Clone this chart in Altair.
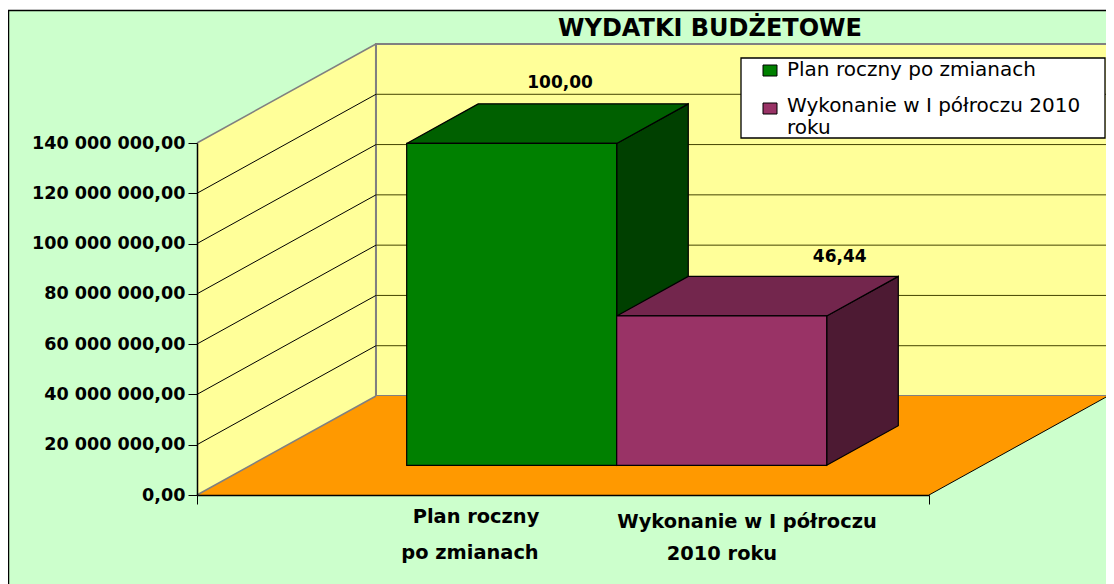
import altair as alt
import pandas as pd

# --- chart values -----------------------------------------------------------
title_text = "WYDATKI BUDŻETOWE"
series_names = ["Plan roczny po zmianach", "Wykonanie w I półroczu 2010 roku"]
series_values = [128000000, 59400000]
value_labels = ["100,00", "46,44"]
value_label_x = [0.496, 0.878]
value_label_y = [163900000, 94700000]
tick_values = [0, 20000000, 40000000, 60000000, 80000000, 100000000, 120000000, 140000000]
category_lines = [("Plan roczny", 476, 517), ("po zmianach", 470, 553),
                  ("Wykonanie w I półroczu", 747, 522), ("2010 roku", 722, 554)]
legend_lines = [("Plan roczny po zmianach", 70), ("Wykonanie w I półroczu 2010", 106), ("roku", 128)]
front_colors = ["#008000", "#993366"]
top_colors = ["#006000", "#73264D"]
side_colors = ["#004000", "#4D1A33"]

# --- oblique projection parameters (data units) -------------------------------
DX = 0.2445          # depth shift along the category axis
DV = 39375000        # depth shift along the value axis
BAR_W = 0.2869
D0, D1 = 0.3, 0.7    # depth span of the bars
Y_MAX = 140000000

xs = alt.Scale(domain=[0, 1], nice=False, zero=False)
ys = alt.Scale(domain=[0, Y_MAX], nice=False, zero=False)


def P(x, d, v):
    return x + d * DX, v + d * DV


def px(v):
    return v - 197


def py(v):
    return v - 143


def vpoly(x0, x1, low0, high0, low1, high1, color, stroke=None, sw=1.0):
    """Polygon with two vertical edges."""
    df = pd.DataFrame({"x": [x0, x1], "y": [low0, low1], "y2": [high0, high1]})
    kw = dict(color=color, opacity=1)
    if stroke:
        kw.update(stroke=stroke, strokeWidth=sw)
    return alt.Chart(df).mark_area(orient="vertical", **kw).encode(
        x=alt.X("x:Q", scale=xs, title=None),
        y=alt.Y("y:Q", scale=ys, title=None),
        y2="y2:Q",
    )


def hpoly(y0, y1, left0, right0, left1, right1, color, stroke=None, sw=1.0):
    """Polygon with two horizontal edges."""
    df = pd.DataFrame({"y": [y0, y1], "x": [left0, left1], "x2": [right0, right1]})
    kw = dict(color=color, opacity=1)
    if stroke:
        kw.update(stroke=stroke, strokeWidth=sw)
    return alt.Chart(df).mark_area(orient="horizontal", **kw).encode(
        y=alt.Y("y:Q", scale=ys, title=None),
        x=alt.X("x:Q", scale=xs, title=None),
        x2="x2:Q",
    )


def seg(points, color, sw=1.0):
    df = pd.DataFrame(points, columns=["x", "y"])
    df["o"] = range(len(df))
    return alt.Chart(df).mark_line(color=color, strokeWidth=sw).encode(
        x=alt.X("x:Q", scale=xs, title=None),
        y=alt.Y("y:Q", scale=ys, title=None),
        order="o:Q",
    )


one = pd.DataFrame({"a": [0]})


def box(x0, y0, x1, y1, fill, stroke, sw=1.0):
    return alt.Chart(one).mark_rect(fill=fill, stroke=stroke, strokeWidth=sw, opacity=1).encode(
        x=alt.value(px(x0)), x2=alt.value(px(x1)), y=alt.value(py(y0)), y2=alt.value(py(y1))
    )


def label(text, x, y, size, bold=True, align="center"):
    return alt.Chart(one).mark_text(
        text=text, font="DejaVu Sans", fontSize=size, fontWeight="bold" if bold else "normal",
        color="#000000", align=align, baseline="middle",
    ).encode(x=alt.value(px(x)), y=alt.value(py(y)))


# axes layer first: its explicit axis settings are shared by every layer
axis_df = pd.DataFrame({"x": [0, 1], "y": [0, 0]})
layers = [alt.Chart(axis_df).mark_line(opacity=0).encode(
    x=alt.X("x:Q", scale=xs, title=None, axis=alt.Axis(
        values=[0, 1], labels=False, grid=False, tickSize=9, tickColor="#000000",
        domainColor="#000000", domainWidth=1.5, zindex=1)),
    y=alt.Y("y:Q", scale=ys, title=None, axis=alt.Axis(
        values=tick_values, grid=False, tickSize=9, tickColor="#000000",
        domainColor="#000000", domainWidth=1.5, labelPadding=3, labelFont="DejaVu Sans",
        labelFontSize=17.6, labelFontWeight="bold", labelColor="#000000", zindex=1,
        labelExpr="replace(replace(format(datum.value, ',.2f'), /,/g, ' '), '.', ',')")),
)]

layers.append(box(8.5, 10.5, 1125, 600, "#CCFFCC", "#000000", 1.5))

# walls and floor
layers.append(vpoly(0, DX, 0, Y_MAX, DV, Y_MAX + DV, "#FFFF99"))
layers.append(vpoly(DX, 1 + DX, DV, Y_MAX + DV, DV, Y_MAX + DV, "#FFFF99", "#808080", 2))
layers.append(hpoly(0, DV, 0, 1, DX, 1 + DX, "#FF9900"))
layers.append(seg([(0, 0), (DX, DV)], "#808080", 1.5))
layers.append(seg([(1, 0), (1 + DX, DV)], "#000000", 1))
layers.append(seg([(DX, DV), (DX, Y_MAX + DV)], "#808080", 2))

# gridlines
for t in tick_values[1:]:
    edge = "#808080" if t == Y_MAX else "#000000"
    layers.append(seg([(0, t), (DX, t + DV)], edge, 1.5 if t == Y_MAX else 1))
    if t != Y_MAX:
        layers.append(seg([(DX, t + DV), (1 + DX, t + DV)], "#444400", 1))

# bars
for i, v in enumerate(series_values):
    x0 = 0.5 - BAR_W + i * BAR_W
    x1 = x0 + BAR_W
    fx0, base0 = P(x0, D0, 0)
    fx1, _ = P(x1, D0, 0)
    bx1, base1 = P(x1, D1, 0)
    bx0 = P(x0, D1, 0)[0]
    layers.append(vpoly(fx1, bx1, base0, base0 + v, base1, base1 + v, side_colors[i], "#000000", 1.2))
    layers.append(hpoly(base0 + v, base1 + v, fx0, fx1, bx0, bx1, top_colors[i], "#000000", 1.2))
    layers.append(vpoly(fx0, fx1, base0, base0 + v, base0, base0 + v, front_colors[i], "#000000", 1.2))

# value labels
vl = pd.DataFrame({"x": value_label_x, "y": value_label_y, "t": value_labels})
layers.append(alt.Chart(vl).mark_text(font="DejaVu Sans", fontSize=17, fontWeight="bold",
                                      color="#000000", baseline="middle").encode(
    x=alt.X("x:Q", scale=xs, title=None), y=alt.Y("y:Q", scale=ys, title=None), text="t:N"))

# title, category text, legend
layers.append(label(title_text, 710, 29, 24))
for t, x, y in category_lines:
    layers.append(label(t, x, y, 19.4))
layers.append(box(741, 58, 1105, 138, "#FFFFFF", "#000000", 1.3))
layers.append(box(763, 65, 777, 76, front_colors[0], "#000000", 1))
layers.append(box(763, 103, 777, 114, front_colors[1], "#000000", 1))
for t, y in legend_lines:
    layers.append(label(t, 787, y, 20, bold=False, align="left"))

chart = alt.layer(*layers).properties(
    width=732, height=352,
    background="#FFFFFF",
    padding={"left": 189, "top": 135, "right": 177, "bottom": 89},
    autosize=alt.AutoSizeParams(type="none"),
).configure_view(strokeWidth=0)

chart.save("out.html", embed_options={"renderer": "svg", "actions": False})
